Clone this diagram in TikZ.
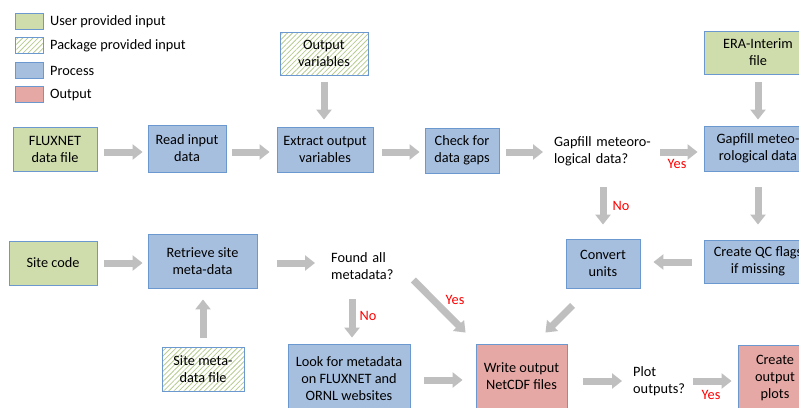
\documentclass[tikz,border=0pt]{standalone}
\usepackage{fontspec}
\setmainfont{Carlito}
\usetikzlibrary{arrows.meta,patterns.meta,calc}
\definecolor{ugreen}{HTML}{CFDDAD}
\definecolor{pblue}{HTML}{A7BFDF}
\definecolor{ored}{HTML}{E5A8A5}
\definecolor{bordblue}{HTML}{6A98CF}
\definecolor{hatch}{HTML}{B8CC90}
\definecolor{agray}{HTML}{BFBFBF}
\definecolor{txt}{HTML}{000000}
\begin{document}
\begin{tikzpicture}[x=1pt,y=-1pt,
  font=\fontsize{14.3}{17}\selectfont, text=txt,
  box/.style={draw=bordblue, line width=0.9pt, inner sep=0pt, align=center},
  user/.style={box, fill=ugreen},
  pkg/.style={box, pattern={Lines[angle=45,distance=3.6pt,line width=0.8pt]}, pattern color=hatch},
  proc/.style={box, fill=pblue},
  outp/.style={box, fill=ored},
  dec/.style={inner sep=0pt, align=left, anchor=west, minimum height=36pt},
  plain/.style={inner sep=0pt, anchor=west},
  barrow/.style={draw=agray, line width=7pt, -{Triangle[width=15pt,length=10pt]}},
  lab/.style={text=red, inner sep=0pt}]
\useasboundingbox (0,0) rectangle (799,407);
\clip (0,0) rectangle (799,407);
\fill[white] (0,0) rectangle (799,407);

% legend
\node[user, minimum width=28pt, minimum height=16pt] (lg1) at (29,21) {};
\node[pkg, minimum width=28pt, minimum height=16pt] (lg2) at (29,45) {};
\node[proc, minimum width=28pt, minimum height=16pt] (lg3) at (29,70) {};
\node[outp, minimum width=28pt, minimum height=16pt] (lg4) at (29,94) {};
\node[plain] (lt1) at (50,22) {User provided input};
\node[plain] (lt2) at (50,46) {Package provided input};
\node[plain] (lt3) at (50,71) {Process};
\node[plain] (lt4) at (50,95) {Output};

% row 1
\node[user, minimum width=84pt, minimum height=44pt] (flux) at (55,149) {FLUXNET\\data file};
\node[proc, minimum width=78pt, minimum height=47pt] (read) at (187,148.5) {Read input\\data};
\node[proc, minimum width=96pt, minimum height=45pt] (extract) at (325,149.5) {Extract output\\variables};
\node[pkg, minimum width=88pt, minimum height=43pt] (outvar) at (324,53.5) {Output\\variables};
\node[proc, minimum width=74pt, minimum height=45pt] (check) at (462,150.5) {Check for\\data gaps};
\node[dec, text width=100pt] (gapq) at (554,151) {Gapfill meteoro-\\logical data?};
\node[user, minimum width=108pt, minimum height=43pt] (era) at (758,52.5) {ERA-Interim\\file};
\node[proc, minimum width=108pt, minimum height=45pt] (gapfill) at (758,148.5) {Gapfill meteo-\\rological data};

% row 2
\node[user, minimum width=88pt, minimum height=44pt] (site) at (53,263) {Site code};
\node[proc, minimum width=109pt, minimum height=54pt] (retrieve) at (202.5,261) {Retrieve site\\meta-data};
\node[dec, text width=70pt] (foundq) at (331,266) {Found all\\metadata?};
\node[proc, minimum width=74pt, minimum height=49pt] (convert) at (603,263.5) {Convert\\units};
\node[proc, minimum width=108pt, minimum height=43pt] (qc) at (758,261.5) {Create QC flags\\if missing};

% row 3
\node[pkg, minimum width=82pt, minimum height=44pt] (sitefile) at (203,369) {Site meta-\\data file};
\node[proc, minimum width=122pt, minimum height=69pt] (look) at (349,378.5) {Look for metadata\\on FLUXNET and\\ORNL websites};
\node[outp, minimum width=91pt, minimum height=64pt] (write) at (521.5,376) {Write output\\NetCDF files};
\node[dec, text width=55pt] (plotq) at (633,381) {Plot\\outputs?};
\node[outp, minimum width=74pt, minimum height=67pt] (plots) at (775,378.5) {Create\\output\\plots};

% arrows
\draw[barrow, shorten <=7pt, shorten >=5pt] ([yshift=-3pt]flux.east) -- ([yshift=-3pt]flux.east -| read.west);
\draw[barrow, shorten <=6pt, shorten >=7pt] ([yshift=-3.5pt]read.east) -- ([yshift=-3.5pt]read.east -| extract.west);
\draw[barrow, shorten <=7pt, shorten >=7pt] (outvar.south) -- (outvar.south |- extract.north);
\draw[barrow, shorten <=9pt, shorten >=5pt] ([yshift=-2.5pt]extract.east) -- ([yshift=-2.5pt]extract.east -| check.west);
\draw[barrow, shorten <=7pt, shorten >=11pt] ([yshift=-1.5pt]check.east) -- ([yshift=-1.5pt]check.east -| gapq.west);
\draw[barrow, shorten <=6pt, shorten >=6pt] ([yshift=-1pt]gapq.east) -- ([yshift=-1pt]gapq.east -| gapfill.west);
\draw[barrow, shorten <=8pt, shorten >=6pt] (era.south) -- (era.south |- gapfill.north);
\draw[barrow, shorten <=16pt, shorten >=15pt] (gapfill.south) -- (qc.north);
\draw[barrow, shorten <=18pt, shorten >=14pt] (gapq.south -| convert.north) -- (convert.north);
\draw[barrow, shorten <=12pt, shorten >=13pt] ([yshift=-0.5pt]qc.west) -- ([yshift=-0.5pt]qc.west -| convert.east);
\draw[barrow] ($(convert.south west)+(7,17)$) -- ($(write.north east)+(-22,-11)$);
\draw[barrow, shorten <=16pt, shorten >=11pt] (plotq.west -| write.east) -- (plotq.west);
\draw[barrow, shorten <=5pt, shorten >=6pt] (plotq.east) -- (plotq.east -| plots.west);
\draw[barrow, shorten <=7pt, shorten >=5pt] (site.east) -- (site.east -| retrieve.west);
\draw[barrow, shorten <=9pt, shorten >=11pt] (sitefile.north) -- (sitefile.north |- retrieve.south);
\draw[barrow, shorten <=20pt, shorten >=16pt] ([yshift=-2pt]retrieve.east) -- ([yshift=-2pt]retrieve.east -| foundq.west);
\draw[barrow, shorten <=15pt, shorten >=6pt] ([xshift=3pt]foundq.south -| look.north) -- ([xshift=3pt]look.north);
\draw[barrow] ($(foundq.east)+(12,14)$) -- ($(write.north west)+(-10,-11)$);
\draw[barrow, shorten <=14pt, shorten >=13pt] ([yshift=-1.5pt]look.east) -- ([yshift=-1.5pt]look.east -| write.west);

% labels
\node[lab] (y1) at (677,164) {Yes};
\node[lab] (n1) at (621,206) {No};
\node[lab] (y2) at (455,300) {Yes};
\node[lab] (n2) at (368,316) {No};
\node[lab] (y3) at (711,395) {Yes};
\end{tikzpicture}
\end{document}
